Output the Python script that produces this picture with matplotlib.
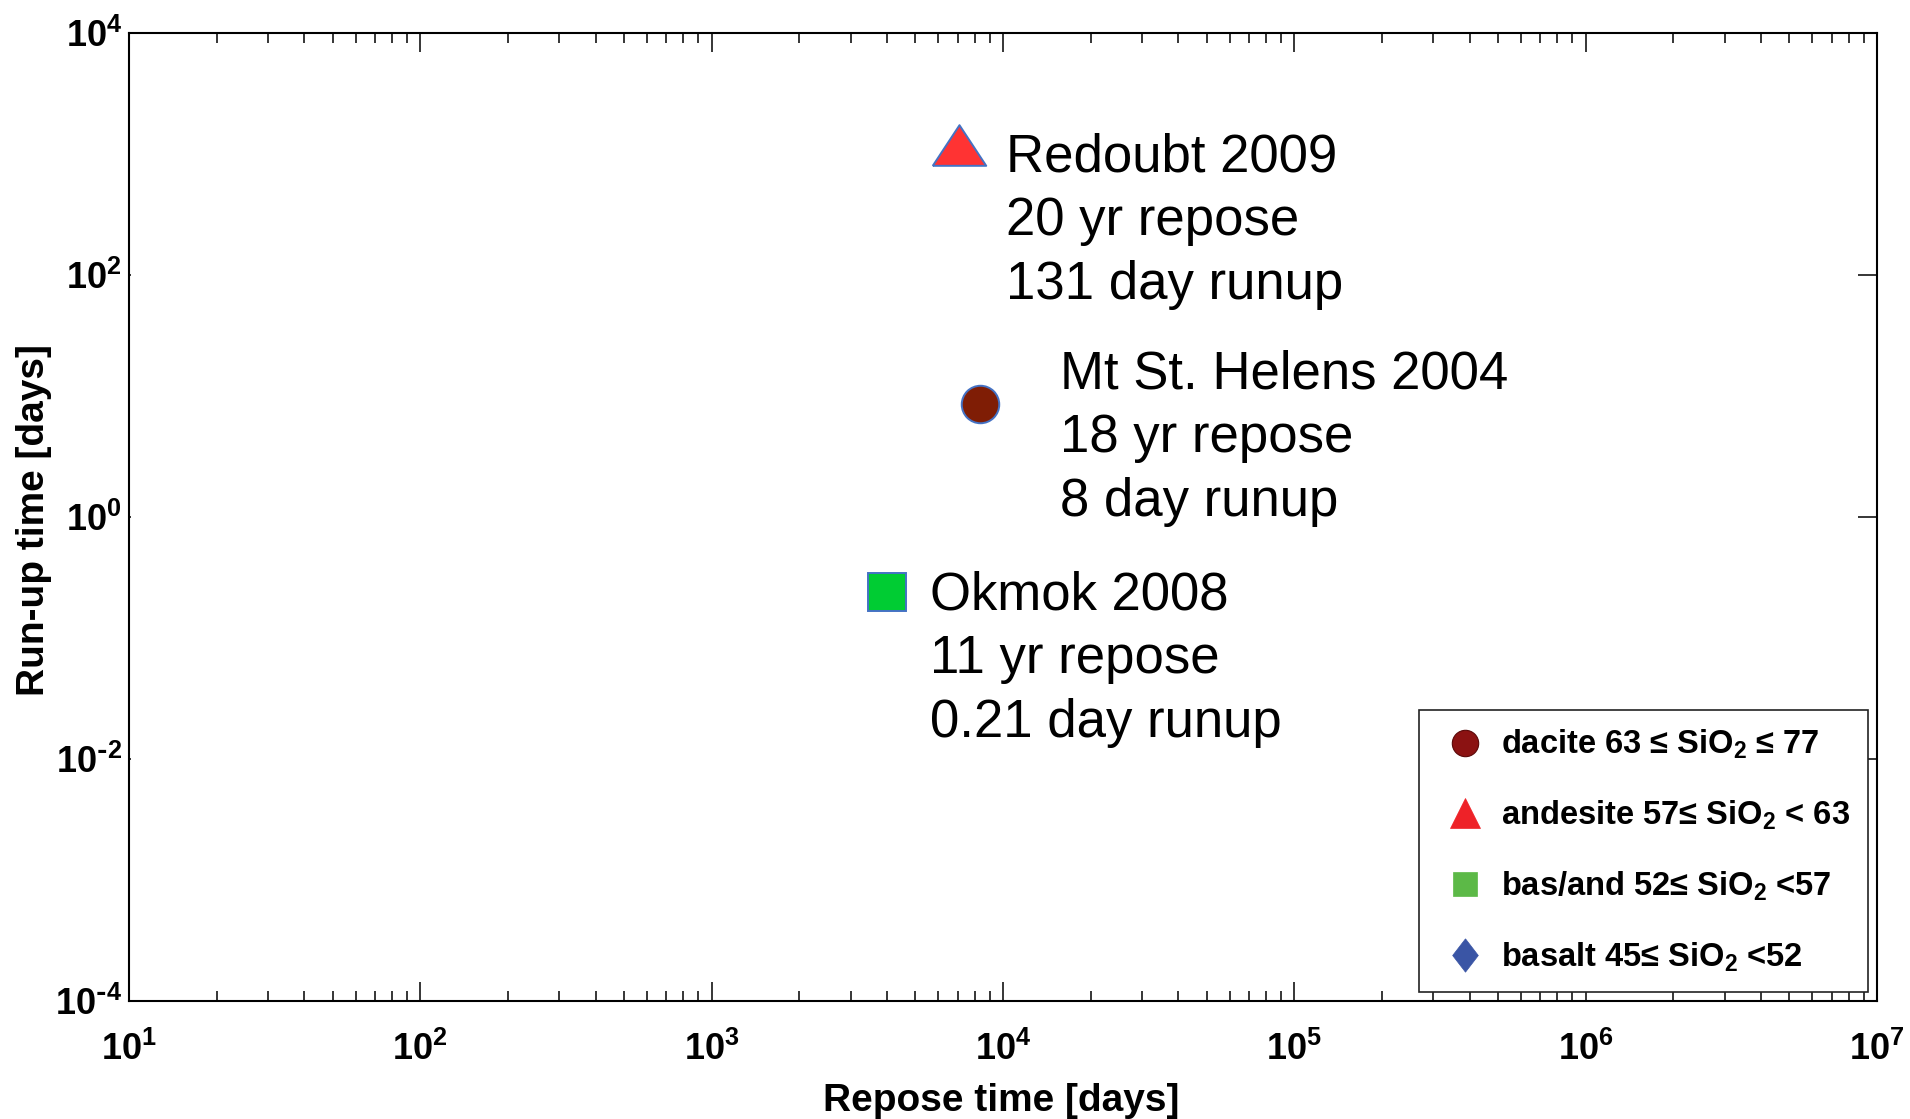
import numpy as np
import matplotlib.pyplot as plt
from matplotlib.lines import Line2D
from matplotlib.path import Path
from matplotlib.ticker import FixedLocator, FuncFormatter

plt.rcParams['font.family'] = ['Liberation Sans', 'DejaVu Sans']
plt.rcParams['font.weight'] = 'bold'
plt.rcParams['mathtext.default'] = 'regular'

# eruptions, as placed on the plot (days)
names = ["Redoubt 2009", "Mt St. Helens 2004", "Okmok 2008"]
repose = [7040, 8340, 4000]
runup = [1190, 8.6, 0.24]
notes = [["20 yr repose", "131 day runup"],
         ["18 yr repose", "8 day runup"],
         ["11 yr repose", "0.21 day runup"]]

# legend (rock type by silica content)
rock_labels = ["dacite 63 \u2264 SiO$_2$ \u2264 77",
               "andesite 57\u2264 SiO$_2$ < 63",
               "bas/and 52\u2264 SiO$_2$ <57",
               "basalt 45\u2264 SiO$_2$ <52"]

xticks = [1e1, 1e2, 1e3, 1e4, 1e5, 1e6, 1e7]
yticks = [1e-4, 1e-2, 1e0, 1e2, 1e4]

tri = Path([(-1, -0.76), (1, -0.76), (0, 0.76), (-1, -0.76)])
diamond = Path([(0, 1), (0.77, 0), (0, -1), (-0.77, 0), (0, 1)])


def pow10(v, pos):
    e = int(round(np.log10(v)))
    if e < 0:
        return r'$\mathdefault{10^{\text{-}%d}}$' % (-e)
    return r'$\mathdefault{10^{%d}}$' % e


fig = plt.figure(figsize=(19.1, 11.19), dpi=100)
ax = fig.add_axes([0.0675, 0.1055, 0.9152, 0.8651])
ax.set_xscale('log')
ax.set_yscale('log')
ax.set_xlim(xticks[0], xticks[-1])
ax.set_ylim(yticks[0], yticks[-1])

edge = '#4472c4'
ax.plot(repose[0], runup[0], ls='none', marker=tri, ms=38.5, mfc='#ff3333', mec=edge, mew=1.4)
ax.plot(repose[1], runup[1], ls='none', marker='o', ms=27, mfc='#7f1d05', mec=edge, mew=1.4)
ax.plot(repose[2], runup[2], ls='none', marker='s', ms=27, mfc='#00cc33', mec=edge, mew=1.4)

# va='baseline' anchors the last line here, so the offsets include two line steps
offsets = [(47, -154), (80, -112), (43, -145)]
for name, x, y, note, off in zip(names, repose, runup, notes, offsets):
    ax.annotate(name + "\n" + "\n".join(note), xy=(x, y), xytext=off,
                textcoords='offset pixels', fontsize=38, fontweight='normal',
                ha='left', va='baseline', linespacing=1.35)

# axes styling
for s in ax.spines.values():
    s.set_linewidth(1.5)
xminor = [m * t for t in xticks[:-1] for m in range(2, 10)]
ax.xaxis.set_major_locator(FixedLocator(xticks))
ax.xaxis.set_minor_locator(FixedLocator(xminor))
ax.yaxis.set_major_locator(FixedLocator(yticks))
ax.yaxis.set_minor_locator(FixedLocator([]))
ax.xaxis.set_major_formatter(FuncFormatter(pow10))
ax.yaxis.set_major_formatter(FuncFormatter(pow10))
ax.xaxis.set_minor_formatter(FuncFormatter(lambda v, p: ''))
ax.tick_params(which='both', direction='in', top=True, right=True, width=1.1, labelsize=26)
ax.tick_params(which='major', length=13.5)
ax.tick_params(which='minor', length=7)
ax.tick_params(axis='x', pad=22)
ax.tick_params(axis='y', pad=5)
for t in ax.yaxis.get_major_ticks():
    t.tick1line.set_markersize(1.5)

ax.set_xlabel("Repose time [days]", fontsize=28, fontweight='bold')
ax.set_ylabel("Run-up time [days]", fontsize=28, fontweight='bold')
ax.xaxis.set_label_coords(0.499, -0.085)
ax.yaxis.set_label_coords(-0.044, 0.497)

handles = [
    Line2D([], [], ls='none', marker='o', ms=19, mfc='#8b1212', mec='#5a0808', mew=0.8),
    Line2D([], [], ls='none', marker='^', ms=21, mfc='#ee2228', mec='#ee2228', mew=0.5),
    Line2D([], [], ls='none', marker='s', ms=17, mfc='#5cb947', mec='#5cb947', mew=0.5),
    Line2D([], [], ls='none', marker=diamond, ms=24, mfc='#3a55a5', mec='#3a55a5', mew=0.5),
]
leg = ax.legend(handles, rock_labels, loc='lower right', bbox_to_anchor=(1, 0),
                fontsize=23.5, frameon=True, fancybox=False, framealpha=1,
                edgecolor='#222222', borderaxespad=0.27, borderpad=0.55,
                handlelength=1.72, handletextpad=0.25, labelspacing=1.15)
leg.get_frame().set_linewidth(1.2)

fig.savefig('out.png', dpi=100)
